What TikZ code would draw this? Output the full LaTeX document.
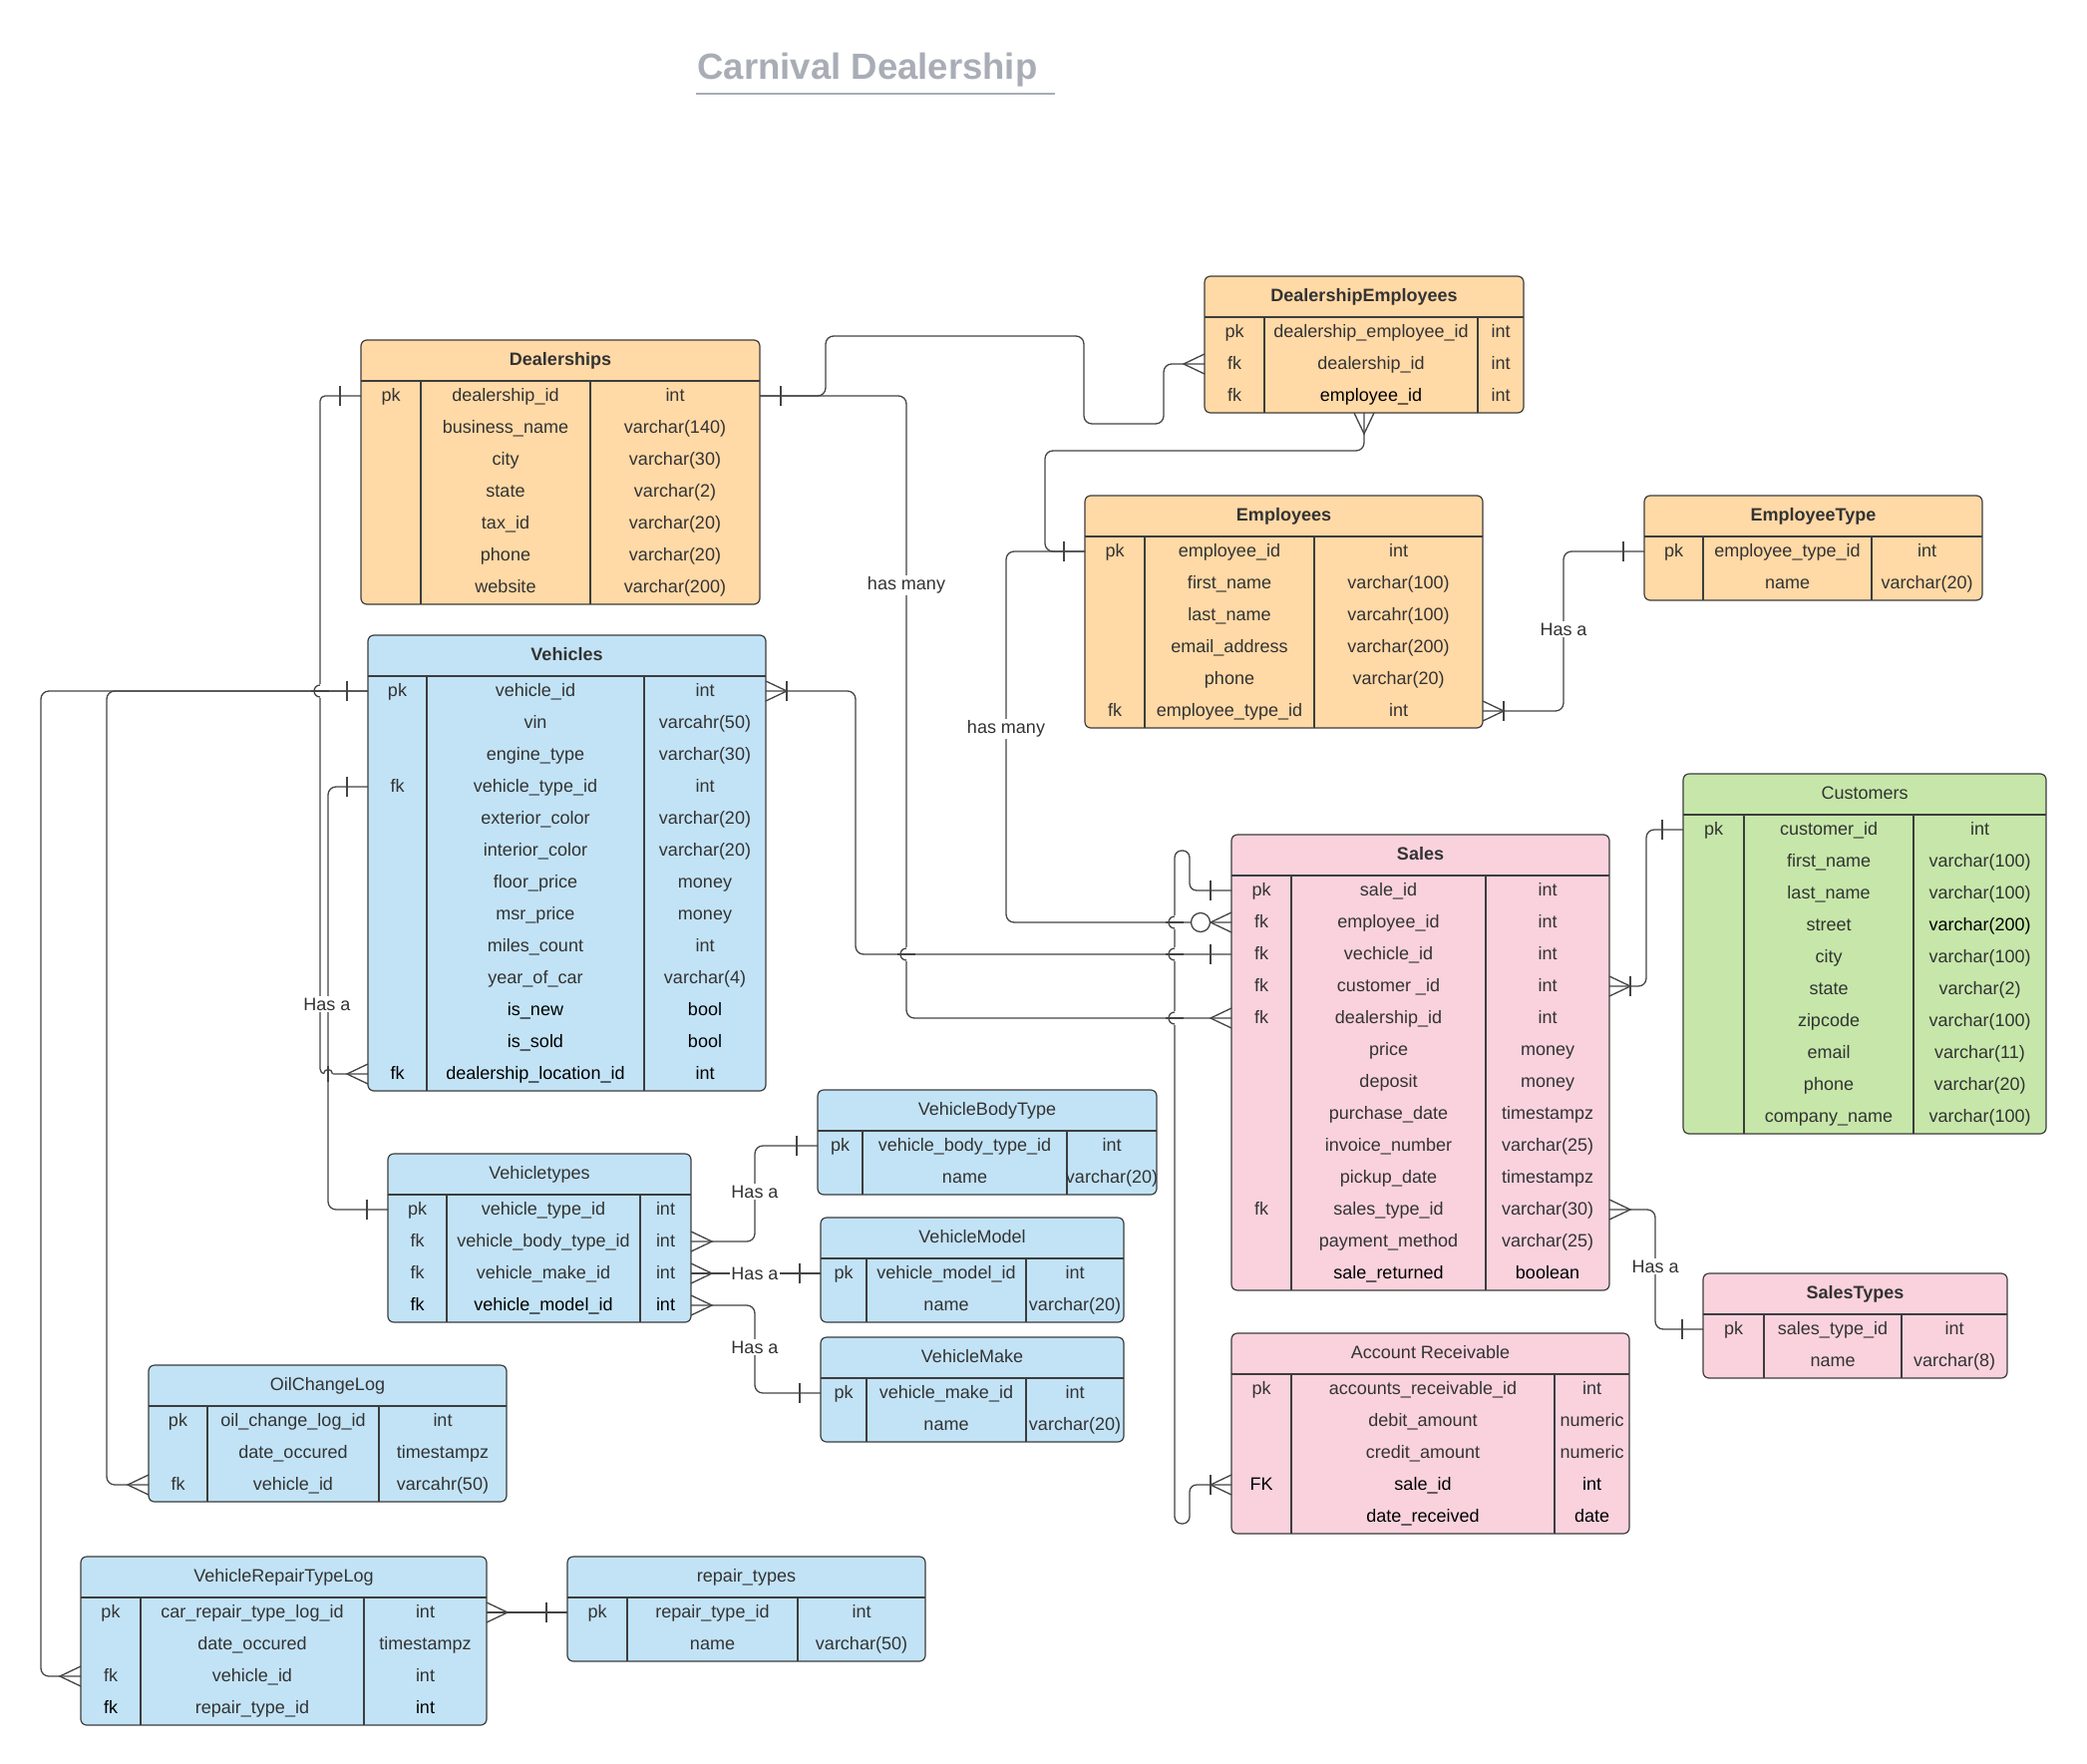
\documentclass[tikz,border=0pt]{standalone}
\usepackage{fontspec}
\setmainfont{Liberation Sans}
\usetikzlibrary{calc}

\definecolor{orangefill}{HTML}{FFD9A6}
\definecolor{bluefill}{HTML}{C2E3F6}
\definecolor{pinkfill}{HTML}{F9D2DE}
\definecolor{greenfill}{HTML}{C6E7A9}
\definecolor{edge}{HTML}{3D3D3D}
\definecolor{ink}{HTML}{333333}
\definecolor{linkc}{HTML}{444444}
\definecolor{titlegray}{HTML}{A8ADB6}

\newcommand\cellfont{\fontsize{18}{21}\selectfont}

% table parameters
\pgfkeys{/erd/.cd,
  name/.store in=\erdName, left/.store in=\erdL, top/.store in=\erdT,
  right/.store in=\erdR, colA/.store in=\erdA, colB/.store in=\erdB,
  rows/.store in=\erdN, fill/.store in=\erdFill, title font/.store in=\erdTF}

% #1 options, #2 title, #3 rows  key/field/type/colour
\newcommand\erdtable[3]{%
  \pgfkeys{/erd/.cd, title font=\mdseries, #1}%
  \pgfmathsetmacro\erdW{\erdR-\erdL}%
  \pgfmathsetmacro\erdH{41+32*\erdN}%
  \pgfmathsetmacro\erdHead{\erdT+41}%
  \pgfmathsetmacro\erdBot{\erdT+\erdH}%
  \pgfmathsetmacro\erdMid{(\erdL+\erdR)/2}%
  \pgfmathsetmacro\erdCA{(\erdL+\erdA)/2}%
  \pgfmathsetmacro\erdCB{(\erdA+\erdB)/2}%
  \pgfmathsetmacro\erdCC{(\erdB+\erdR)/2}%
  \node[tablebox, fill=\erdFill, minimum width=\erdW pt, minimum height=\erdH pt,
        anchor=north west] (\erdName) at (\erdL,\erdT) {};
  \draw[grid] (\erdL,\erdHead) -- (\erdR,\erdHead)
              (\erdA,\erdHead) -- (\erdA,\erdBot)
              (\erdB,\erdHead) -- (\erdB,\erdBot);
  \node[celltext] (\erdName-title) at (\erdMid,\erdT+25) {\erdTF #2};
  \foreach \cK/\cF/\cT/\cC [count=\i] in {#3} {%
    \pgfmathsetmacro\rowY{\erdHead+15+32*(\i-1)}%
    \coordinate (\erdName-\i) at (\erdL,\rowY);
    \node[celltext, text=\cC] (\erdName-k\i) at (\erdCA,\rowY+5) {\cK};
    \node[celltext, text=\cC] (\erdName-f\i) at (\erdCB,\rowY+5) {\cF};
    \node[celltext, text=\cC] (\erdName-t\i) at (\erdCC,\rowY+5) {\cT};
  }%
}

% connector end marks: #1 point on the table edge, #2 outward direction
\newcommand\erdbar[2]{\draw[conn, shift={(#1)}, rotate=#2, x=1pt, y=1pt] (21,-10) -- (21,10);}
\newcommand\erdcrow[2]{\draw[conn, shift={(#1)}, rotate=#2, x=1pt, y=1pt] (0,-10) -- (21,0) -- (0,10);}
\newcommand\erdring[2]{\draw[conn, fill=white, shift={(#1)}, rotate=#2, x=1pt, y=1pt] (31,0) circle[radius=9.5pt];}

% line jumps at crossings
\newcommand\vhop[1]{%
  \begin{scope}[shift={(#1)}]
    \fill[white] (-2.6,-7) rectangle (2.6,7);
    \draw[conn] (-9,0) -- (9,0);
    \draw[conn] (0,-6) arc[start angle=90, end angle=270, radius=6pt];
  \end{scope}}
\newcommand\hhop[1]{%
  \begin{scope}[shift={(#1)}]
    \fill[white] (-5,-2.6) rectangle (5,2.6);
    \draw[conn] (0,-8) -- (0,8);
    \draw[conn] (-4.5,0) arc[start angle=180, end angle=0, radius=4.5pt];
  \end{scope}}

\begin{document}
\begin{tikzpicture}[x=1pt, y=-1pt,
  tablebox/.style={draw=edge, line width=1.2pt, rounded corners=6pt, inner sep=0pt, outer sep=0pt},
  grid/.style={draw=edge, line width=1.1pt},
  celltext/.style={anchor=base, inner sep=0pt, text=ink, font=\cellfont},
  conn/.style={draw=linkc, line width=1.3pt},
  lbl/.style={fill=white, inner sep=1.5pt, text=ink, font=\cellfont, anchor=center}]

\useasboundingbox (0,0) rectangle (2093,1769);
\fill[white] (0,0) rectangle (2093,1769);

% heading
\node[anchor=base, inner sep=0pt, text=titlegray, font=\fontsize{36.5}{40}\selectfont\bfseries]
  (heading) at (870,79.5) {Carnival Dealership};
\draw[titlegray, line width=2.5pt] (698,94) -- (1058,94);

% ---------------- tables ----------------
\erdtable{name=dl, left=362, top=341, right=762, colA=422, colB=592, rows=7,
  fill=orangefill, title font=\bfseries}{Dealerships}{%
  pk/dealership\_id/int/ink, /business\_name/varchar(140)/ink, /city/varchar(30)/ink,
  /state/varchar(2)/ink, /tax\_id/varchar(20)/ink, /phone/varchar(20)/ink,
  /website/varchar(200)/ink}

\erdtable{name=de, left=1208, top=277, right=1528, colA=1268, colB=1482, rows=3,
  fill=orangefill, title font=\bfseries}{DealershipEmployees}{%
  pk/dealership\_employee\_id/int/ink, fk/dealership\_id/int/ink,
  fk/{\color{black}employee\_id}/int/ink}

\erdtable{name=em, left=1088, top=497, right=1487, colA=1148, colB=1318, rows=6,
  fill=orangefill, title font=\bfseries}{Employees}{%
  pk/employee\_id/int/ink, /first\_name/varchar(100)/ink, /last\_name/varcahr(100)/ink,
  /email\_address/varchar(200)/ink, /phone/varchar(20)/ink, fk/employee\_type\_id/int/ink}

\erdtable{name=et, left=1649, top=497, right=1988, colA=1708, colB=1877, rows=2,
  fill=orangefill, title font=\bfseries}{EmployeeType}{%
  pk/employee\_type\_id/int/ink, /name/varchar(20)/ink}

\erdtable{name=ve, left=369, top=637, right=768, colA=428, colB=646, rows=13,
  fill=bluefill, title font=\bfseries}{Vehicles}{%
  pk/vehicle\_id/int/ink, /vin/varcahr(50)/ink, /engine\_type/varchar(30)/ink,
  fk/vehicle\_type\_id/int/ink, /exterior\_color/varchar(20)/ink,
  /interior\_color/varchar(20)/ink, /floor\_price/money/ink, /msr\_price/money/ink,
  /miles\_count/int/ink, /year\_of\_car/varchar(4)/ink, /is\_new/bool/black,
  /is\_sold/bool/black, fk/dealership\_location\_id/int/black}

\erdtable{name=vt, left=389, top=1157, right=693, colA=448, colB=642, rows=4,
  fill=bluefill}{Vehicletypes}{%
  pk/vehicle\_type\_id/int/ink, fk/vehicle\_body\_type\_id/int/ink,
  fk/vehicle\_make\_id/int/ink, fk/vehicle\_model\_id/int/black}

\erdtable{name=vb, left=820, top=1093, right=1160, colA=865, colB=1070, rows=2,
  fill=bluefill}{VehicleBodyType}{%
  pk/vehicle\_body\_type\_id/int/ink, /name/varchar(20)/ink}

\erdtable{name=vm, left=823, top=1221, right=1127, colA=869, colB=1029, rows=2,
  fill=bluefill}{VehicleModel}{%
  pk/vehicle\_model\_id/int/ink, /name/varchar(20)/ink}

\erdtable{name=vk, left=823, top=1341, right=1127, colA=869, colB=1029, rows=2,
  fill=bluefill}{VehicleMake}{%
  pk/vehicle\_make\_id/int/ink, /name/varchar(20)/ink}

\erdtable{name=oc, left=149, top=1369, right=508, colA=208, colB=380, rows=3,
  fill=bluefill}{OilChangeLog}{%
  pk/oil\_change\_log\_id/int/ink, /date\_occured/timestampz/ink,
  fk/vehicle\_id/varcahr(50)/ink}

\erdtable{name=vr, left=81, top=1561, right=488, colA=141, colB=365, rows=4,
  fill=bluefill}{VehicleRepairTypeLog}{%
  pk/car\_repair\_type\_log\_id/int/ink, /date\_occured/timestampz/ink,
  fk/vehicle\_id/int/ink, {\color{black}fk}/repair\_type\_id/{\color{black}int}/ink}

\erdtable{name=rt, left=569, top=1561, right=928, colA=629, colB=800, rows=2,
  fill=bluefill}{repair\_types}{%
  pk/repair\_type\_id/int/ink, /name/varchar(50)/ink}

\erdtable{name=sa, left=1235, top=837, right=1614, colA=1295, colB=1490, rows=13,
  fill=pinkfill, title font=\bfseries}{Sales}{%
  pk/sale\_id/int/ink, fk/employee\_id/int/ink, fk/vechicle\_id/int/ink,
  fk/customer \_id/int/ink, fk/dealership\_id/int/ink, /price/money/ink,
  /deposit/money/ink, /purchase\_date/timestampz/ink, /invoice\_number/varchar(25)/ink,
  /pickup\_date/timestampz/ink, fk/sales\_type\_id/varchar(30)/ink,
  /payment\_method/varchar(25)/ink, /sale\_returned/boolean/black}

\erdtable{name=cu, left=1688, top=776, right=2052, colA=1749, colB=1919, rows=10,
  fill=greenfill}{Customers}{%
  pk/customer\_id/int/ink, /first\_name/varchar(100)/ink, /last\_name/varchar(100)/ink,
  /street/{\color{black}varchar(200)}/ink, /city/varchar(100)/ink, /state/varchar(2)/ink,
  /zipcode/varchar(100)/ink, /email/varchar(11)/ink, /phone/varchar(20)/ink,
  /company\_name/varchar(100)/ink}

\erdtable{name=st, left=1708, top=1277, right=2013, colA=1769, colB=1907, rows=2,
  fill=pinkfill, title font=\bfseries}{SalesTypes}{%
  pk/sales\_type\_id/int/ink, /name/varchar(8)/ink}

\erdtable{name=ar, left=1235, top=1337, right=1634, colA=1295, colB=1559, rows=5,
  fill=pinkfill}{Account Receivable}{%
  pk/accounts\_receivable\_id/int/ink, /debit\_amount/numeric/ink,
  /credit\_amount/numeric/ink, FK/sale\_id/int/black, /date\_received/date/black}

% ---------------- routing lanes ----------------
\coordinate (laneA) at (321,0);
\coordinate (laneB) at (329,0);
\coordinate (laneC) at (107,0);
\coordinate (laneD) at (41,0);
\coordinate (laneE) at (858,0);
\coordinate (laneF) at (909,0);
\coordinate (laneG) at (1009,0);
\coordinate (laneH) at (1568,0);
\coordinate (laneI) at (1048,452);
\coordinate (laneCu) at (1651,0);
\coordinate (laneSt) at (1660,0);
\coordinate (laneK) at (757,0);
\coordinate (laneAR) at (1178,0);
\coordinate (laneAR2) at (1193,0);
\coordinate (loopTop) at (0,853);
\coordinate (loopBot) at (0,1528);

% ---------------- connectors ----------------
% Dealerships -> DealershipEmployees
\draw[conn, rounded corners=8pt] (dl.east |- dl-1) -| (828,337) -| (1087,425)
  -| ($(de.west |- de-2)+(-41,0)$) -- (de.west |- de-2);
\erdbar{dl.east |- dl-1}{0}
\erdcrow{de.west |- de-2}{180}

% Dealerships -> Sales
\draw[conn, rounded corners=8pt] (dl.east |- dl-1) -| (laneF |- sa-5) -- (sa.west |- sa-5);
\erdcrow{sa.west |- sa-5}{180}

% Dealerships -> Vehicles
\draw[conn, rounded corners=5pt] (dl.west |- dl-1) -| (laneA |- ve-13) -- (ve.west |- ve-13);
\erdbar{dl.west |- dl-1}{180}
\erdcrow{ve.west |- ve-13}{180}

% Vehicles -> OilChangeLog, VehicleRepairTypeLog
\draw[conn, rounded corners=8pt] (ve.west |- ve-1) -| (laneC |- oc-3) -- (oc.west |- oc-3);
\draw[conn, rounded corners=8pt] (ve.west |- ve-1) -| (laneD |- vr-3) -- (vr.west |- vr-3);
\erdbar{ve.west |- ve-1}{180}
\erdcrow{oc.west |- oc-3}{180}
\erdcrow{vr.west |- vr-3}{180}

% Vehicles -> Vehicletypes
\draw[conn, rounded corners=8pt] (ve.west |- ve-4) -| (laneB |- vt-1) -- (vt.west |- vt-1);
\erdbar{ve.west |- ve-4}{180}
\erdbar{vt.west |- vt-1}{180}

% Vehicles -> Sales
\draw[conn, rounded corners=8pt] (ve.east |- ve-1) -| (laneE |- sa-3) -- (sa.west |- sa-3);
\erdcrow{ve.east |- ve-1}{0}
\erdbar{ve.east |- ve-1}{0}
\erdbar{sa.west |- sa-3}{180}

% Employees -> Sales
\draw[conn, rounded corners=8pt] (em.west |- em-1) -| (laneG |- sa-2) -- (sa.west |- sa-2);
\erdbar{em.west |- em-1}{180}
\erdcrow{sa.west |- sa-2}{180}
\erdring{sa.west |- sa-2}{180}

% DealershipEmployees -> Employees
\draw[conn, rounded corners=8pt] (de.south) |- (laneI) |- (em.west |- em-1);
\erdcrow{de.south}{-90}

% Employees -> EmployeeType
\draw[conn, rounded corners=8pt] (em.east |- em-6) -| (laneH |- et-1) -- (et.west |- et-1);
\erdcrow{em.east |- em-6}{0}
\erdbar{em.east |- em-6}{0}
\erdbar{et.west |- et-1}{180}

% Sales -> Customers
\draw[conn, rounded corners=8pt] (sa.east |- sa-4) -| (laneCu |- cu-1) -- (cu.west |- cu-1);
\erdcrow{sa.east |- sa-4}{0}
\erdbar{sa.east |- sa-4}{0}
\erdbar{cu.west |- cu-1}{180}

% Sales -> SalesTypes
\draw[conn, rounded corners=8pt] (sa.east |- sa-11) -| (laneSt |- st-1) -- (st.west |- st-1);
\erdcrow{sa.east |- sa-11}{0}
\erdbar{st.west |- st-1}{180}

% Sales -> Account Receivable
\draw[conn, rounded corners=7pt] (sa.west |- sa-1) -| (laneAR2 |- loopTop)
  -| (laneAR |- loopBot) -| (laneAR2 |- ar-4) -- (ar.west |- ar-4);
\erdbar{sa.west |- sa-1}{180}
\erdcrow{ar.west |- ar-4}{180}
\erdbar{ar.west |- ar-4}{180}

% Vehicletypes -> VehicleBodyType, VehicleModel, VehicleMake
\draw[conn, rounded corners=8pt] (vt.east |- vt-2) -| (laneK |- vb-1) -- (vb.west |- vb-1);
\draw[conn] (vt.east |- vt-3) -- (vm.west |- vm-1);
\draw[conn, rounded corners=8pt] (vt.east |- vt-4) -| (laneK |- vk-1) -- (vk.west |- vk-1);
\erdcrow{vt.east |- vt-2}{0}
\erdcrow{vt.east |- vt-3}{0}
\erdcrow{vt.east |- vt-4}{0}
\erdbar{vb.west |- vb-1}{180}
\erdbar{vm.west |- vm-1}{180}
\erdbar{vk.west |- vk-1}{180}

% VehicleRepairTypeLog -> repair_types
\draw[conn] (vr.east |- vr-1) -- (rt.west |- rt-1);
\erdcrow{vr.east |- vr-1}{0}
\erdbar{rt.west |- rt-1}{180}

% line jumps
\vhop{laneA |- ve-1}
\hhop{laneB |- ve-13}
\vhop{laneF |- sa-3}
\vhop{laneAR |- sa-2}
\vhop{laneAR |- sa-3}
\vhop{laneAR |- sa-5}

% relationship labels
\node[lbl] (lblDlSa) at (909,587) {has many};
\node[lbl] (lblEmSa) at (1009,731) {has many};
\node[lbl] (lblEmEt) at (1568,631) {Has a};
\node[lbl] (lblVeVt) at (328,1007) {Has a};
\node[lbl] (lblVtVb) at (757,1195) {Has a};
\node[lbl] (lblVtVm) at (757,1277) {Has a};
\node[lbl] (lblVtVk) at (757,1351) {Has a};
\node[lbl] (lblSaSt) at (1660,1270) {Has a};
\end{tikzpicture}
\end{document}
